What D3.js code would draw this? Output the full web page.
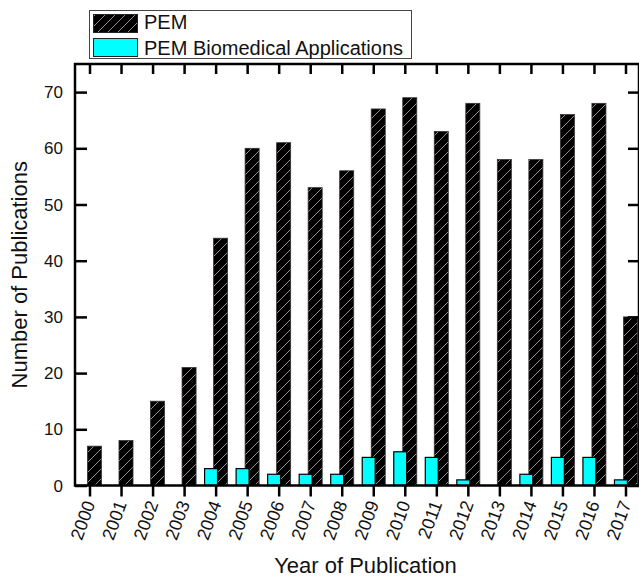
<!DOCTYPE html>
<html><head><meta charset="utf-8">
<script src="https://cdn.jsdelivr.net/npm/d3@7"></script>
<style>
html,body{margin:0;padding:0;background:#fff;}
svg{display:block;font-family:"Liberation Sans",Arial,sans-serif;}
</style></head>
<body><svg id="c" width="639" height="577"></svg>
<script>
const years = ["2000","2001","2002","2003","2004","2005","2006","2007","2008","2009","2010","2011","2012","2013","2014","2015","2016","2017"];
const pemValues = [7,8,15,21,44,60,61,53,56,67,69,63,68,58,58,66,68,30];
const bioValues = [0,0,0,0,3,3,2,2,2,5,6,5,1,0,2,5,5,1];
const yTicks = [0,10,20,30,40,50,60,70];
const seriesNames = ["PEM","PEM Biomedical Applications"];

const svg = d3.select("#c");
const L = 75, R = 640, T = 64, B = 485.5;

const x = d3.scalePoint().domain(years).range([L, R]).padding(0.46);
const step = x.step();
const y = d3.scaleLinear().domain([0, 75]).range([B, T]);

const defs = svg.append("defs");
const pat = defs.append("pattern").attr("id","hatch").attr("patternUnits","userSpaceOnUse")
  .attr("width",10).attr("height",10);
pat.append("rect").attr("width",10).attr("height",10).attr("fill","#000");
pat.append("path").attr("d","M-1,11 L11,-1 M-6,6 L6,-6 M4,16 L16,4")
  .attr("stroke","#9c8a92").attr("stroke-width",1);

// PEM bars
svg.append("g").selectAll("rect").data(years).join("rect")
  .attr("x", d => x(d) - 0.065*step)
  .attr("width", 0.445*step)
  .attr("y", (d,i) => y(pemValues[i]))
  .attr("height", (d,i) => B - y(pemValues[i]))
  .attr("fill","url(#hatch)").attr("stroke","#333").attr("stroke-width",0.8);

// Bio bars
svg.append("g").selectAll("rect").data(years.filter((d,i)=>bioValues[i]>0)).join("rect")
  .attr("x", d => x(d) - 0.35*step)
  .attr("width", 0.41*step)
  .attr("y", d => y(bioValues[years.indexOf(d)]))
  .attr("height", d => B - y(bioValues[years.indexOf(d)]))
  .attr("fill","#00ffff").attr("stroke","#000").attr("stroke-width",1.2);

// Axes
const axB = svg.append("g").attr("transform",`translate(0,${B})`)
  .call(d3.axisBottom(x).tickSize(11).tickSizeOuter(0).tickFormat(""));
const axT = svg.append("g").attr("transform",`translate(0,${T})`)
  .call(d3.axisBottom(x).tickSize(10).tickSizeOuter(0).tickFormat(""));
const axL = svg.append("g").attr("transform",`translate(${L},0)`)
  .call(d3.axisRight(y).tickValues(yTicks).tickSize(12).tickSizeOuter(0).tickFormat(""));
const axR = svg.append("g").attr("transform",`translate(${R-1},0)`)
  .call(d3.axisLeft(y).tickValues(yTicks).tickSize(11).tickSizeOuter(0).tickFormat(""));
[axB,axT,axL,axR].forEach(g=>{
  g.selectAll("line").attr("stroke","#000").attr("stroke-width",2.5);
  g.select(".domain").remove();
});
svg.append("rect").attr("x",L).attr("y",T).attr("width",R-1-L).attr("height",B-T)
  .attr("fill","none").attr("stroke","#000").attr("stroke-width",2.5);

// Y tick labels
svg.append("g").selectAll("text").data(yTicks).join("text")
  .attr("x", 63).attr("y", d => y(d)).attr("dy","0.36em")
  .attr("text-anchor","end").attr("font-size",17).attr("fill","#111")
  .text(d => d);

// X tick labels
svg.append("g").selectAll("text").data(years).join("text")
  .attr("text-anchor","end").attr("font-size",18).attr("fill","#111")
  .attr("transform", d => `translate(${x(d)+6},${B+18}) rotate(-70)`)
  .text(d => d);

// Axis titles
svg.append("text").attr("x", (L+R)/2 + 8).attr("y", 573).attr("text-anchor","middle")
  .attr("font-size",22).attr("fill","#111").text("Year of Publication");
svg.append("text").attr("transform",`translate(27,${(T+B)/2}) rotate(-90)`)
  .attr("text-anchor","middle").attr("font-size",22).attr("fill","#111").text("Number of Publications");

// Legend
const lg = svg.append("g");
lg.append("rect").attr("x",89.5).attr("y",10.5).attr("width",322).attr("height",48)
  .attr("fill","#fff").attr("stroke","#444").attr("stroke-width",1);
const sw = [{fill:"url(#hatch)"},{fill:"#00ffff"}];
seriesNames.forEach((n,i)=>{
  lg.append("rect").attr("x",93.5).attr("y",14.5 + i*24).attr("width",44).attr("height",18)
    .attr("fill",sw[i].fill).attr("stroke","#222").attr("stroke-width",1);
  lg.append("text").attr("x",144).attr("y",29 + i*25.5).attr("font-size",20).attr("fill","#111").text(n);
});
</script></body></html>
